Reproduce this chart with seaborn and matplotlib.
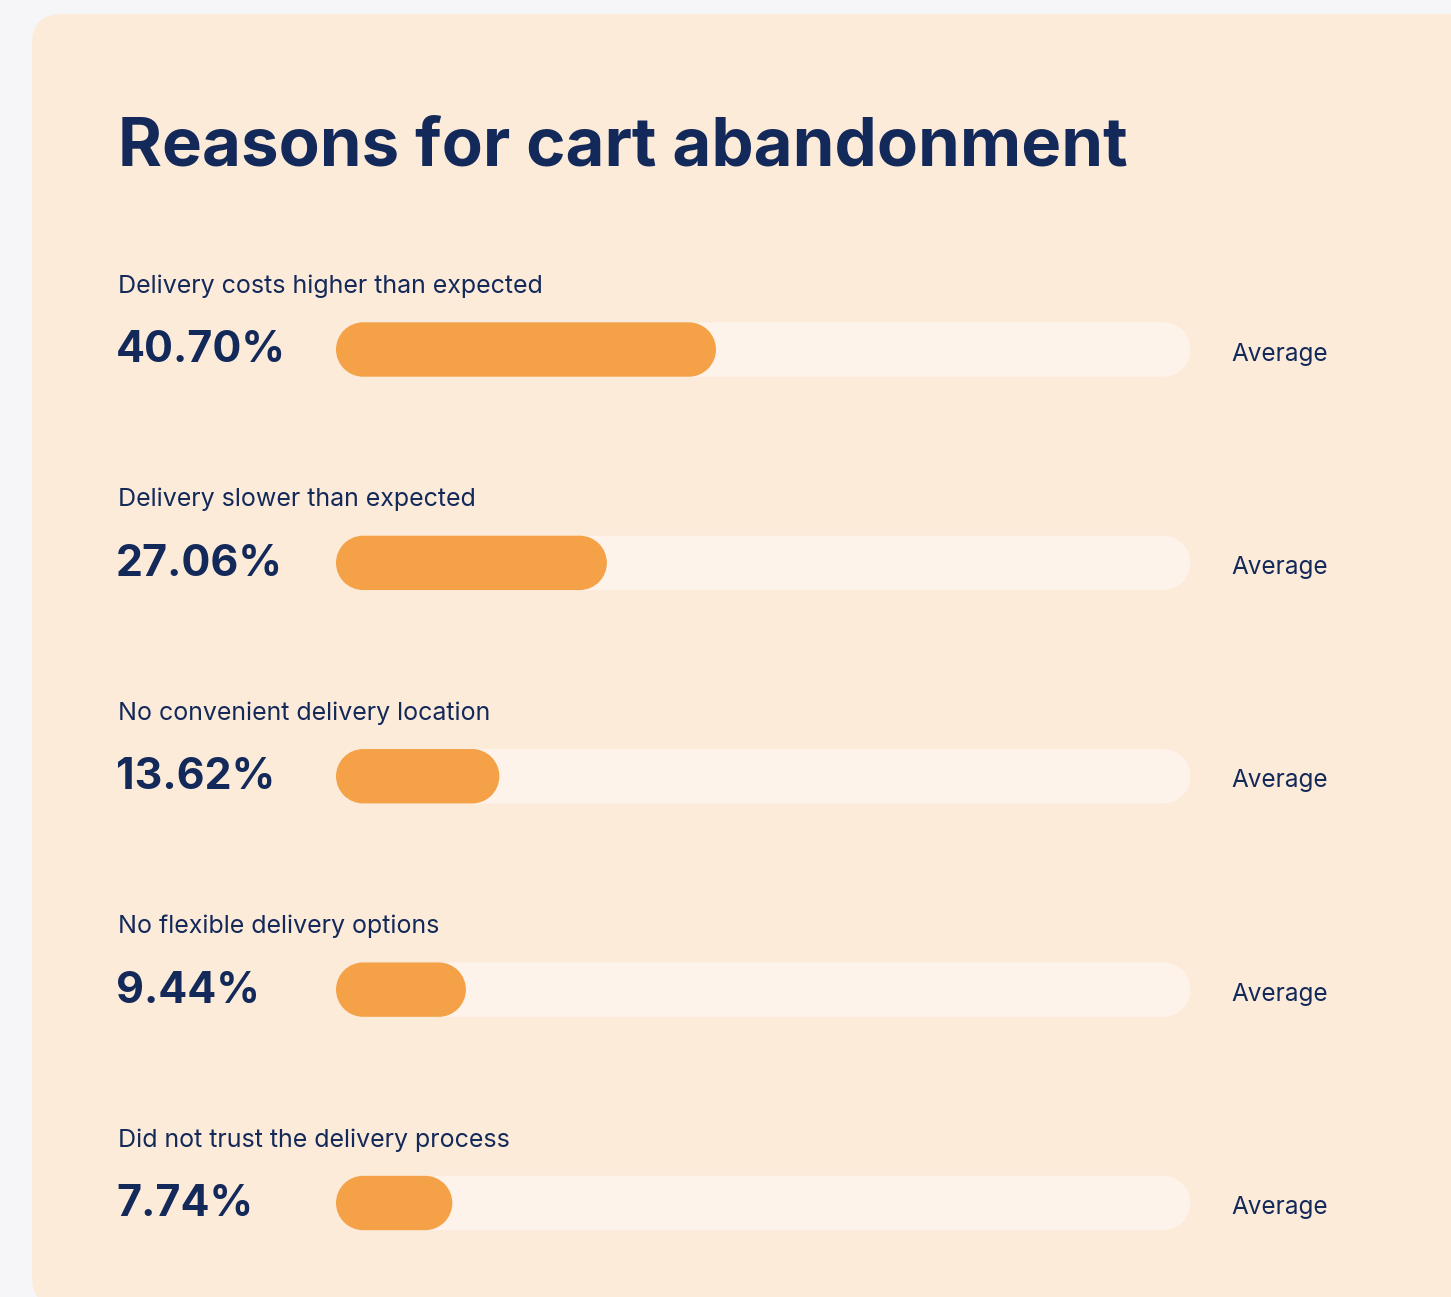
import matplotlib
matplotlib.use("Agg")
import numpy as np
import matplotlib.pyplot as plt
import seaborn as sns
import pandas as pd
from matplotlib.patches import FancyBboxPatch, Rectangle, PathPatch
from matplotlib.path import Path

# ---------------- data ----------------
title = "Reasons for cart abandonment"
categories = [
    "Delivery costs higher than expected",
    "Delivery slower than expected",
    "No convenient delivery location",
    "No flexible delivery options",
    "Did not trust the delivery process",
]
values = [40.70, 27.06, 13.62, 9.44, 7.74]
value_labels = ["40.70%", "27.06%", "13.62%", "9.44%", "7.74%"]
benchmark_label = "Average"
track_max = 100

# ---------------- style ----------------
W, H, DPI = 1451, 1297, 100
BG = "#f6f6f8"
PANEL = "#fdebda"
TRACK = "#fdf3ea"
ORANGE = "#f4a148"
NAVY = "#13295a"

sns.set_theme(style="white")
plt.rcParams["font.family"] = ["Inter", "DejaVu Sans"]

fig = plt.figure(figsize=(W / DPI, H / DPI), dpi=DPI, facecolor=BG)

# background axes in pixel coordinates
bg = fig.add_axes([0, 0, 1, 1], zorder=0)
bg.set_xlim(0, W)
bg.set_ylim(H, 0)
bg.axis("off")
bg.patch.set_alpha(0)
bg.add_patch(FancyBboxPatch((32, 14), 1500, 1293,
                            boxstyle="round,pad=0,rounding_size=30",
                            facecolor=PANEL, edgecolor="none"))

# geometry of bar axes (pixels)
left_px, right_px = 336, 1191
bar_h_px = 54.4
cap_px = bar_h_px / 2
px_per_unit_x = 8.0
row_px = 213.375
first_center = 349.5
top_px, bot_px = 250, 1290

ax = fig.add_axes([left_px / W, 1 - bot_px / H, (right_px - left_px) / W, (bot_px - top_px) / H], zorder=1)
ax.patch.set_alpha(0)

df = pd.DataFrame({"reason": categories, "value": values, "track": [track_max] * len(values)})
bar_w = bar_h_px / row_px
sns.barplot(data=df, x="track", y="reason", orient="h", color=TRACK, width=bar_w,
            saturation=1, ax=ax, edgecolor="none")
sns.barplot(data=df, x="value", y="reason", orient="h", color=ORANGE, width=bar_w,
            saturation=1, ax=ax, edgecolor="none")

capx = cap_px / px_per_unit_x
ax.set_xlim(-capx, (right_px - left_px - cap_px) / px_per_unit_x)
ax.set_ylim((bot_px - first_center) / row_px, -(first_center - top_px) / row_px)
aspect = (1 / row_px) / (1 / px_per_unit_x)  # y data units per x data unit (same pixel length)


def pill_path(x0, x1, yc, r, asp):
    """Stadium shape: straight segment x0..x1 with true semicircular caps."""
    ra = Path.arc(-90, 90)
    la = Path.arc(90, 270)
    rv = ra.vertices * r + [x1, 0]
    lv = la.vertices * r + [x0, 0]
    verts = np.vstack([rv, lv, rv[:1]])
    codes = list(ra.codes) + [Path.LINETO] + list(la.codes[1:]) + [Path.CLOSEPOLY]
    verts[:, 1] = yc + verts[:, 1] * asp
    return Path(verts, codes)


rects = [p for p in ax.patches if isinstance(p, Rectangle)]
for p in rects:
    x0, y0, w, h = p.get_x(), p.get_y(), p.get_width(), p.get_height()
    fc = p.get_facecolor()
    p.remove()
    path = pill_path(x0, x0 + w, y0 + h / 2, capx, aspect)
    ax.add_patch(PathPatch(path, facecolor=fc, edgecolor="none"))
ax.axis("off")

# ---------------- text ----------------
bg.text(118, 166, title, fontsize=48.3, fontweight="bold", color=NAVY, va="baseline", ha="left")
for i, (cat, lab) in enumerate(zip(categories, value_labels)):
    c = first_center + i * row_px
    bg.text(118, c - 56.5, cat, fontsize=18, color=NAVY, va="baseline", ha="left")
    bg.text(116, c + 13, lab, fontsize=31, fontweight="bold", color=NAVY, va="baseline", ha="left")
    bg.text(1231, c + 11, benchmark_label, fontsize=17.5, color=NAVY, va="baseline", ha="left")

fig.savefig("out.png", dpi=DPI, facecolor=BG)
